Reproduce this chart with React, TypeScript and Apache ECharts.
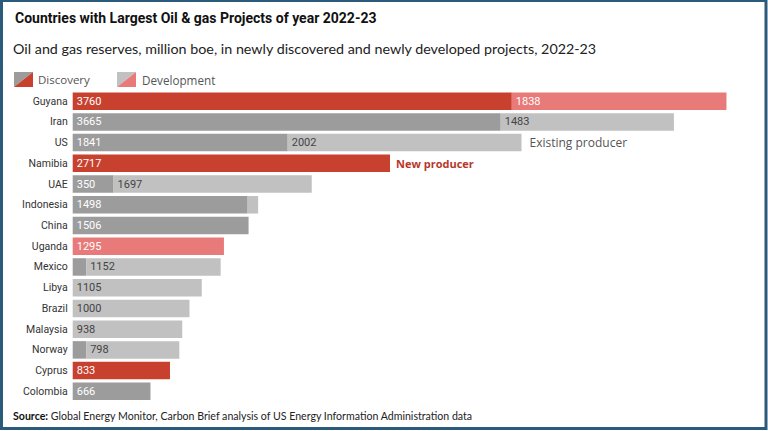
import React, { useEffect, useRef } from "react";
import * as echarts from "echarts";

const titleText = "Countries with Largest Oil & gas Projects of year 2022-23";
const subtitleText =
  "Oil and gas reserves, million boe, in newly discovered and newly developed projects, 2022-23";
const sourceLabel = "Source:";
const sourceText = " Global Energy Monitor, Carbon Brief analysis of US Energy Information Administration data";

const countries = [
  "Guyana", "Iran", "US", "Namibia", "UAE", "Indonesia", "China", "Uganda",
  "Mexico", "Libya", "Brazil", "Malaysia", "Norway", "Cyprus", "Colombia",
];
const discovery = [3760, 3665, 1841, 2717, 350, 1498, 1506, 0, 115, 0, 0, 0, 115, 833, 666];
const development = [1838, 1483, 2002, 0, 1697, 90, 0, 1295, 1152, 1105, 1000, 938, 798, 0, 0];
const newProducer = [true, false, false, true, false, false, false, true, false, false, false, false, false, true, false];
const notes = ["", "", "Existing producer", "New producer", "", "", "", "", "", "", "", "", "", "", ""];
const legendNames = ["Discovery", "Development"];

const RED = "#c8412e";
const PINK = "#e87a79";
const DARK = "#9c9c9c";
const LIGHT = "#c1c1c1";

export default function App() {
  const ref = useRef<HTMLDivElement>(null);
  useEffect(() => {
    if (!ref.current) return;
    const chart = echarts.init(ref.current, null, { renderer: "svg" });

    const discData = discovery.map((v, i) => ({
      value: v > 0 ? v : "-",
      itemStyle: { color: newProducer[i] ? RED : DARK },
      label: { show: v >= 300 },
    }));
    const devData = development.map((v, i) => ({
      value: v > 0 ? v : "-",
      itemStyle: { color: newProducer[i] ? PINK : LIGHT },
      label: { show: v >= 300, color: newProducer[i] ? "#ffffff" : "#444444" },
    }));
    const noteData = notes.map((n, i) =>
      n
        ? {
            value: 0,
            label: {
              show: true,
              formatter: n,
              color: newProducer[i] ? "#b8372a" : "#555555",
              fontWeight: newProducer[i] ? "bold" : "normal",
              fontSize: newProducer[i] ? 11 : 12,
              distance: newProducer[i] ? 6 : 8,
            },
          }
        : "-"
    );

    const legendIcon = (x: number, c1: string, c2: string) => [
      { type: "polygon", shape: { points: [[x, 72], [x + 19, 72], [x, 87]] }, style: { fill: c1 } },
      { type: "polygon", shape: { points: [[x + 19, 72], [x + 19, 87], [x, 87]] }, style: { fill: c2 } },
    ];

    chart.setOption({
      animation: false,
      backgroundColor: "#ffffff",
      title: [
        {
          text: titleText,
          left: 10,
          top: 6,
          textStyle: { fontFamily: "Roboto", fontWeight: "bold", fontSize: 14, color: "#111111" },
        },
        {
          text: subtitleText,
          left: 8,
          top: 36,
          textStyle: { fontFamily: "Lato", fontWeight: "normal", fontSize: 14.3, color: "#222222" },
        },
        {
          text: `{b|${sourceLabel}}{r|${sourceText}}`,
          left: 8,
          top: 405,
          textStyle: {
            rich: {
              b: { fontFamily: "Lato", fontWeight: "bold", fontSize: 10.6, color: "#111111" },
              r: { fontFamily: "Lato", fontWeight: "normal", fontSize: 10.6, color: "#222222" },
            },
          },
        },
      ],
      graphic: [
        {
          type: "rect",
          shape: { x: 1.5, y: 0.5, width: 764.5, height: 428 },
          style: { fill: "none", stroke: "#2c5a7b", lineWidth: 3 },
          silent: true,
        },
        ...legendIcon(14, DARK, RED),
        {
          type: "text",
          x: 38,
          y: 79.5,
          style: { text: legendNames[0], fontFamily: "Open Sans", fontSize: 11.5, fill: "#555555", verticalAlign: "middle" },
        },
        ...legendIcon(117, LIGHT, PINK),
        {
          type: "text",
          x: 142,
          y: 79.5,
          style: { text: legendNames[1], fontFamily: "Open Sans", fontSize: 11.7, fill: "#555555", verticalAlign: "middle" },
        },
      ],
      grid: { left: 72.7, right: 41.3, top: 90.8, bottom: 29.3, containLabel: false },
      xAxis: { type: "value", min: 0, max: 5600, show: false },
      yAxis: {
        type: "category",
        data: countries,
        inverse: true,
        axisLine: { show: false },
        axisTick: { show: false },
        splitLine: { show: false },
        axisLabel: { margin: 5, fontFamily: "Roboto", fontSize: 10.5, color: "#333333" },
      },
      series: [
        {
          name: legendNames[0],
          type: "bar",
          stack: "total",
          barWidth: 17.5,
          data: discData,
          label: { position: "insideLeft", distance: 4, color: "#ffffff", fontFamily: "Roboto", fontSize: 11 },
        },
        {
          name: legendNames[1],
          type: "bar",
          stack: "total",
          barWidth: 17.5,
          data: devData,
          label: { position: "insideLeft", distance: 4, fontFamily: "Roboto", fontSize: 11 },
        },
        {
          name: "note",
          type: "bar",
          stack: "total",
          barWidth: 17.5,
          data: noteData,
          itemStyle: { color: "transparent" },
          label: { position: "right", fontFamily: "Open Sans", fontSize: 12 },
        },
      ],
    });
    return () => chart.dispose();
  }, []);
  return <div ref={ref} style={{ position: "fixed", left: 0, top: 0, width: 768, height: 431 }} />;
}
